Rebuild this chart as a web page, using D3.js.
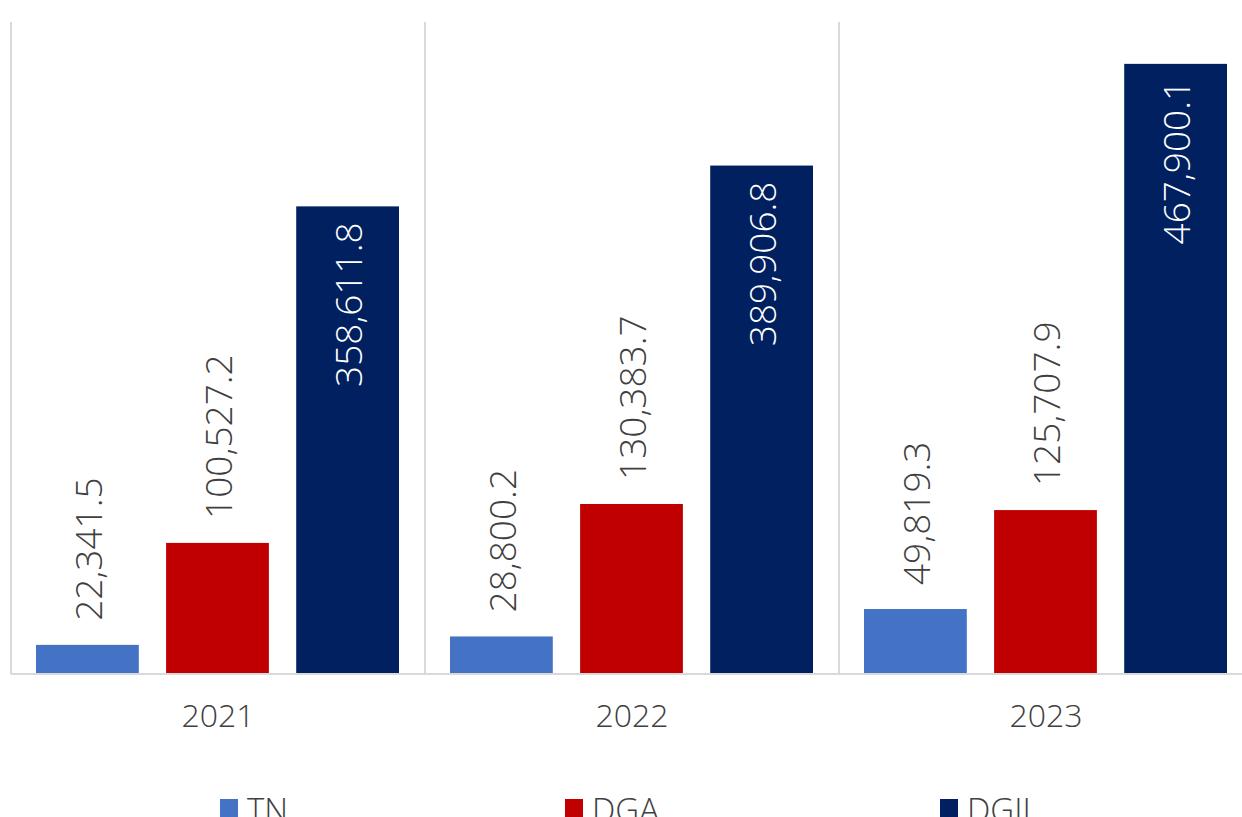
<!DOCTYPE html>
<html>
<head>
<meta charset="utf-8">
<script src="https://cdn.jsdelivr.net/npm/d3@7"></script>
<style>
  html, body { margin: 0; padding: 0; background: #ffffff; }
  svg { display: block; }
  text { font-family: "Open Sans", "Noto Sans", sans-serif; }
</style>
</head>
<body>
<svg id="chart" width="1242" height="817"></svg>
<script>
const categories = ["2021", "2022", "2023"];
const seriesNames = ["TN", "DGA", "DGII"];
const seriesColors = ["#4472C4", "#C00000", "#002060"];
const valuesTN = [22341.5, 28800.2, 49819.3];
const valuesDGA = [100527.2, 130383.7, 125707.9];
const valuesDGII = [358611.8, 389906.8, 467900.1];
const yDomain = [0, 500000];

const seriesValues = [valuesTN, valuesDGA, valuesDGII];

const svg = d3.select("#chart");
const W = 1242, H = 817;
const plot = { left: 11, right: 1253, top: 22, bottom: 674 };

const x0 = d3.scaleBand().domain(categories).range([plot.left, plot.right]).paddingInner(0).paddingOuter(0);
const x1 = d3.scaleBand().domain(seriesNames).range([25, 388]).paddingInner(0.21).paddingOuter(0);
const y = d3.scaleLinear().domain(yDomain).range([plot.bottom, plot.top]);

// vertical gridlines at category boundaries
const bounds = categories.map(c => x0(c)).concat([plot.right]);
svg.append("g").selectAll("line").data(bounds).join("line")
  .attr("x1", d => d).attr("x2", d => d)
  .attr("y1", plot.top).attr("y2", plot.bottom)
  .attr("stroke", "#d9d9d9").attr("stroke-width", 2);

// bars
const groups = svg.append("g").selectAll("g").data(categories).join("g")
  .attr("transform", c => `translate(${x0(c)},0)`);

const fmt = d3.format(",.1f");
const labelSize = 37;
const gap = 24;

groups.each(function(c, ci) {
  const g = d3.select(this);
  seriesNames.forEach((s, si) => {
    const v = seriesValues[si][ci];
    g.append("rect")
      .attr("x", x1(s)).attr("y", y(v))
      .attr("width", x1.bandwidth()).attr("height", y(0) - y(v))
      .attr("fill", seriesColors[si]);
  });
});

// measure label lengths to decide per series whether labels go inside
const measure = svg.append("text").attr("font-size", labelSize).attr("font-weight", 300);
const seriesInside = seriesValues.map(vals => vals.some(v => {
  measure.text(fmt(v));
  return y(v) - gap - measure.node().getComputedTextLength() < plot.top;
}));
measure.remove();

// data labels
groups.each(function(c, ci) {
  const g = d3.select(this);
  seriesNames.forEach((s, si) => {
    const v = seriesValues[si][ci];
    const cx = x1(s) + x1.bandwidth() / 2;
    const t = g.append("text")
      .attr("font-size", labelSize)
      .attr("font-weight", 300)
      .attr("dominant-baseline", "central")
      .text(fmt(v));
    const top = y(v);
    if (seriesInside[si]) {
      t.attr("text-anchor", "end").attr("fill", "#ffffff")
        .attr("transform", `translate(${cx},${top + 16}) rotate(-90)`);
    } else {
      t.attr("text-anchor", "start").attr("fill", "#404040")
        .attr("transform", `translate(${cx},${top - gap}) rotate(-90)`);
    }
  });
});

// baseline axis
svg.append("line").attr("x1", plot.left).attr("x2", W)
  .attr("y1", plot.bottom).attr("y2", plot.bottom)
  .attr("stroke", "#d9d9d9").attr("stroke-width", 2);

const xAxis = svg.append("g").attr("transform", `translate(0,${plot.bottom})`)
  .call(d3.axisBottom(x0).tickSize(0).tickPadding(0));
xAxis.select(".domain").remove();
xAxis.selectAll("text")
  .attr("font-size", 32).attr("fill", "#404040").attr("font-weight", 300)
  .attr("dy", null).attr("y", 53)
  .attr("font-family", "\"Open Sans\", sans-serif");

// legend
const legendX = [220, 565, 940];
const legend = svg.append("g").selectAll("g").data(seriesNames).join("g")
  .attr("transform", (d, i) => `translate(${legendX[i]},0)`);
legend.append("rect").attr("x", 0).attr("y", 799).attr("width", 18).attr("height", 18)
  .attr("fill", (d, i) => seriesColors[i]);
legend.append("text").attr("x", 27).attr("y", 822)
  .attr("font-size", 33).attr("font-weight", 300).attr("fill", "#404040").text(d => d);
</script>
</body>
</html>
